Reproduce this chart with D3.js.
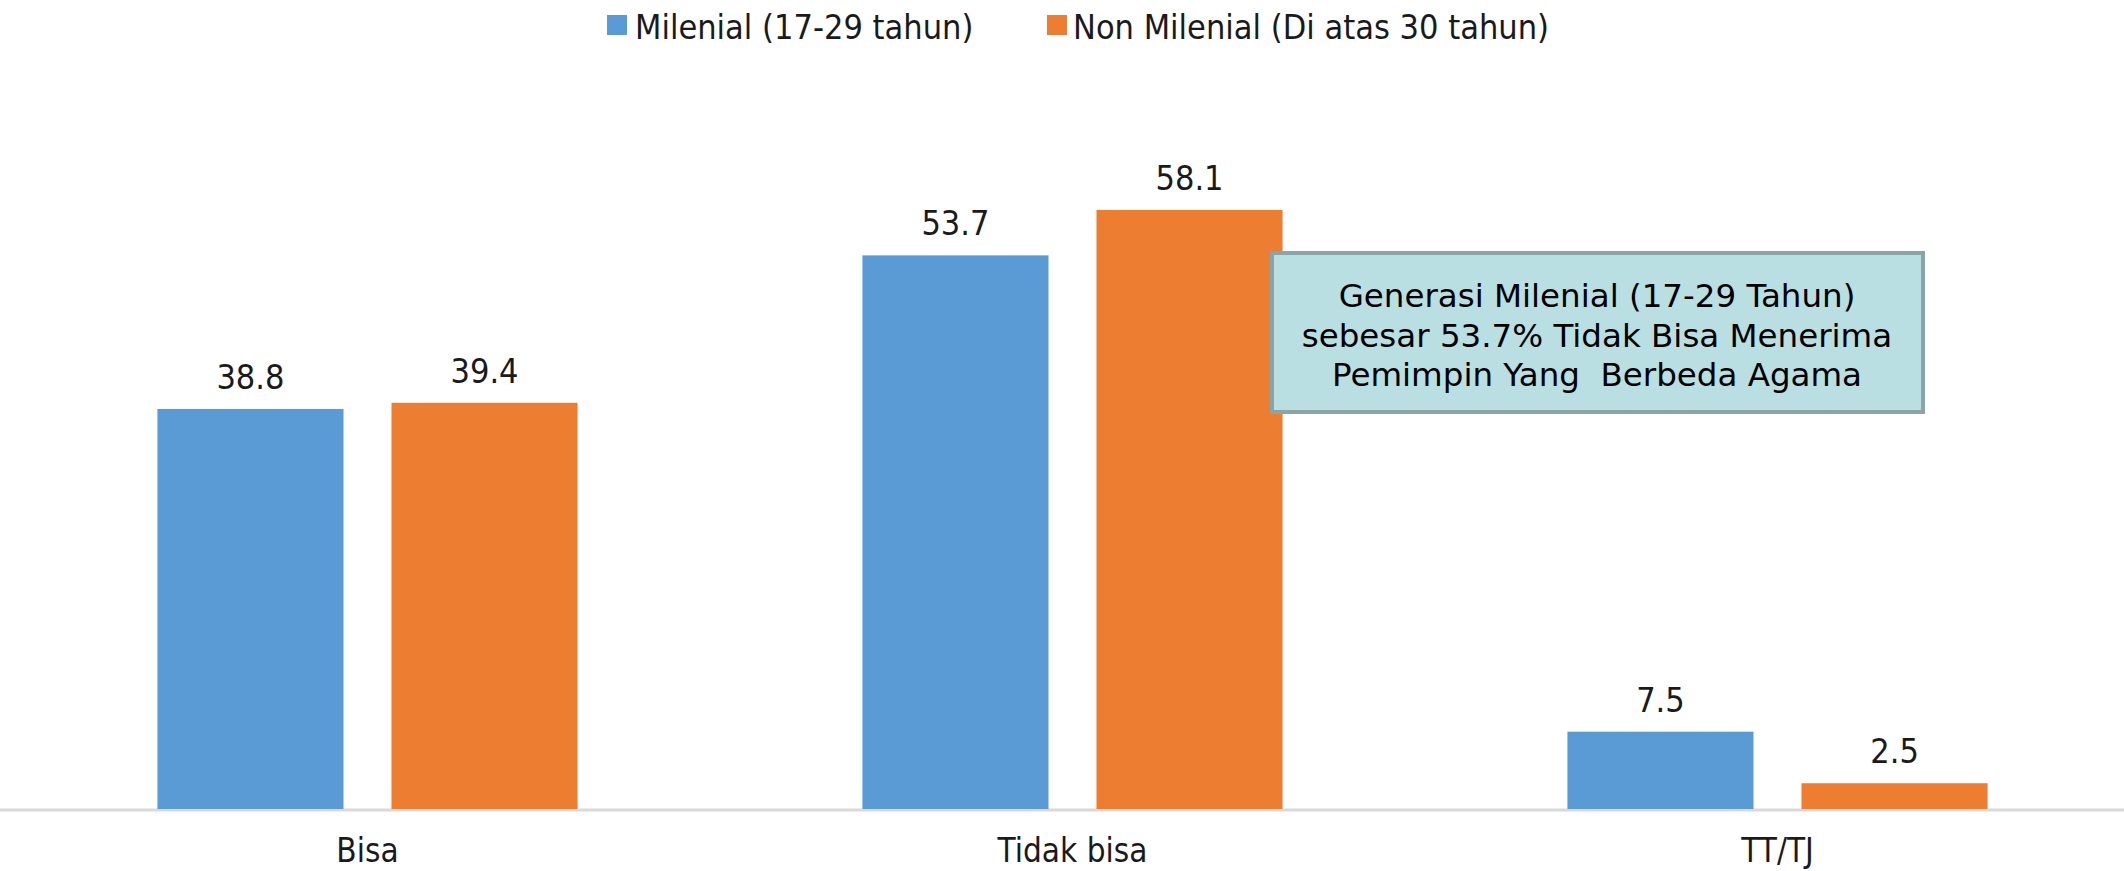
<!DOCTYPE html>
<html>
<head>
<meta charset="utf-8">
<script src="https://cdn.jsdelivr.net/npm/d3@7"></script>
<style>
  html, body { margin: 0; padding: 0; background: #fff; }
  svg { display: block; }
</style>
</head>
<body>
<div id="chart"></div>
<script>
const categories = ["Bisa", "Tidak bisa", "TT/TJ"];
const seriesNames = ["Milenial (17-29 tahun)", "Non Milenial (Di atas 30 tahun)"];
const milenial = [38.8, 53.7, 7.5];
const nonMilenial = [39.4, 58.1, 2.5];
const annotationLines = [
  "Generasi Milenial (17-29 Tahun)",
  "sebesar 53.7% Tidak Bisa Menerima",
  "Pemimpin Yang  Berbeda Agama"
];
const colors = ["#5b9bd5", "#ed7d31"];

const W = 2124, H = 871;
const FONT = "DejaVu Sans Condensed, DejaVu Sans";
const svg = d3.select("#chart").append("svg").attr("width", W).attr("height", H);

const baseline = 809;
const x0 = d3.scaleBand().domain(categories).range([15, 2130]).paddingInner(0.404).paddingOuter(0.202);
const x1 = d3.scaleBand().domain(seriesNames).range([0, x0.bandwidth()]).paddingInner(0.205);
const y = d3.scaleLinear().domain([0, 60]).range([baseline, baseline - 60 * 10.31]);

const data = categories.map((c, i) => ({ cat: c, vals: [milenial[i], nonMilenial[i]] }));

// axis line
const xAxis = d3.axisBottom(x0).tickSize(0);
const gx = svg.append("g").attr("transform", `translate(0,${baseline})`).call(xAxis);
gx.select(".domain").attr("stroke", "#d9d9d9").attr("stroke-width", 3).attr("d", `M0,1H${W}`);
gx.selectAll("text").attr("dy", null).attr("y", 53)
  .attr("font-family", FONT).attr("font-size", 33).attr("fill", "#1a1a1a");

const groups = svg.append("g").selectAll("g").data(data).join("g")
  .attr("transform", d => `translate(${x0(d.cat)},0)`);

groups.selectAll("rect").data(d => d.vals.map((v, j) => ({ s: seriesNames[j], v, j })))
  .join("rect")
  .attr("x", d => x1(d.s))
  .attr("y", d => y(d.v))
  .attr("width", x1.bandwidth())
  .attr("height", d => baseline - y(d.v))
  .attr("fill", d => colors[d.j]);

groups.selectAll("text.val").data(d => d.vals.map((v, j) => ({ s: seriesNames[j], v, j })))
  .join("text")
  .attr("class", "val")
  .attr("x", d => x1(d.s) + x1.bandwidth() / 2)
  .attr("y", d => y(d.v) - 20)
  .attr("text-anchor", "middle")
  .attr("font-family", FONT)
  .attr("font-size", 34)
  .attr("fill", "#1a1a1a")
  .text(d => d.v.toFixed(1));

// legend
const legendItems = [{ name: seriesNames[0], x: 607, tx: 635 }, { name: seriesNames[1], x: 1047, tx: 1073 }];
const lg = svg.append("g");
legendItems.forEach((it, i) => {
  lg.append("rect").attr("x", it.x).attr("y", 15).attr("width", 20).attr("height", 20).attr("fill", colors[i]);
  lg.append("text").attr("x", it.tx).attr("y", 39)
    .attr("font-family", FONT).attr("font-size", 34).attr("fill", "#1a1a1a")
    .text(it.name);
});

// annotation box
const box = svg.append("g");
box.append("rect").attr("x", 1272).attr("y", 253).attr("width", 651).attr("height", 159)
  .attr("fill", "#b9dfe2").attr("stroke", "#8ba4a6").attr("stroke-width", 4);
annotationLines.forEach((t, i) => {
  box.append("text").attr("x", 1597).attr("y", 307 + i * 39.5)
    .attr("text-anchor", "middle")
    .attr("font-family", "DejaVu Sans").attr("font-size", 32.5).attr("fill", "#000")
    .style("white-space", "pre")
    .attr("xml:space", "preserve")
    .text(t);
});
</script>
</body>
</html>
